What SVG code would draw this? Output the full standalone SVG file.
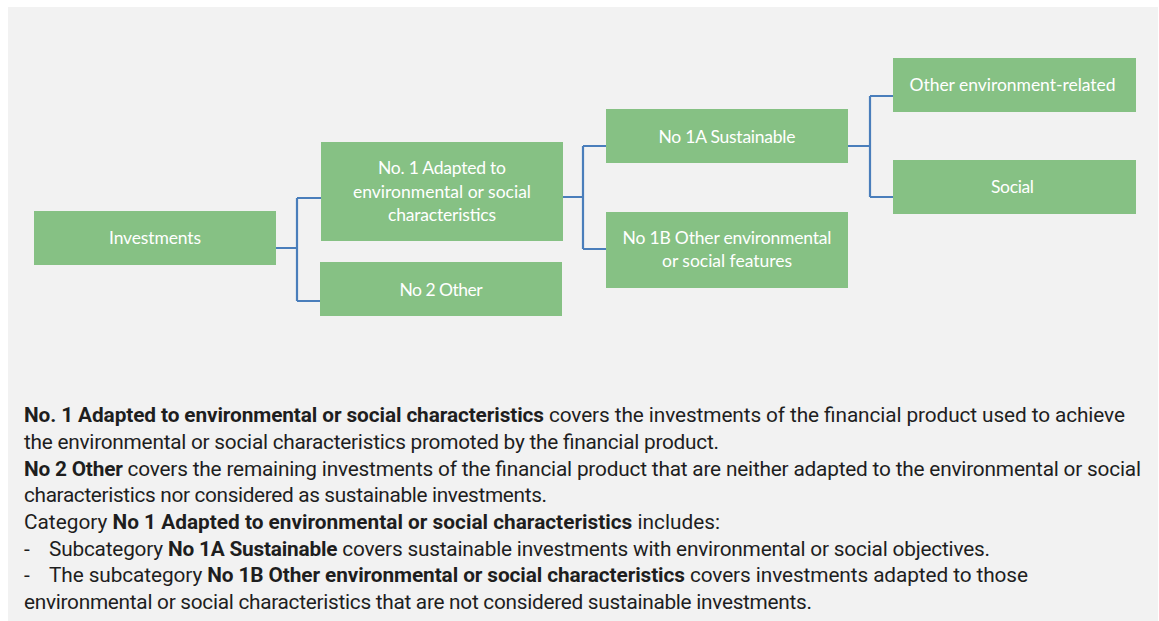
<svg xmlns="http://www.w3.org/2000/svg" width="1159" height="621" viewBox="0 0 1159 621">
<style>
.box{fill:#86c184}
.bt{font-family:Lato,"Noto Sans",sans-serif;font-size:17.5px;fill:#ffffff;text-anchor:middle}
.con{fill:none;stroke:#4a7ebb;stroke-width:2.2}
.body{font-family:Roboto,"Liberation Sans",sans-serif;font-size:20.8px;fill:#1e1e1e}
.b{font-weight:700}
</style>
<rect x="0" y="0" width="1159" height="621" fill="#ffffff"/>
<rect x="8" y="7" width="1150" height="614" fill="#f2f2f2"/>
<g id="connectors">
<path class="con" d="M276,248 H297 M297,198 V301 M297,198 H321 M297,301 H320"/>
<path class="con" d="M563,197 H583 M583,146 V249 M583,146 H606 M583,249 H606"/>
<path class="con" d="M848,146 H870 M870,96 V197 M870,96 H893 M870,197 H893"/>
</g>
<g id="investments"><rect class="box" x="34" y="211" width="242" height="54"/><text class="bt" x="155" y="244" textLength="92" lengthAdjust="spacing">Investments</text></g>
<g id="no1"><rect class="box" x="321" y="142" width="242" height="99"/>
<text class="bt" x="442" y="174" textLength="128" lengthAdjust="spacing">No. 1 Adapted to</text>
<text class="bt" x="442" y="197.5" textLength="178" lengthAdjust="spacing">environmental or social</text>
<text class="bt" x="442" y="220.5" textLength="108" lengthAdjust="spacing">characteristics</text></g>
<g id="no2"><rect class="box" x="320" y="262" width="242" height="54"/><text class="bt" x="441" y="296" textLength="83" lengthAdjust="spacing">No 2 Other</text></g>
<g id="no1a"><rect class="box" x="606" y="109" width="242" height="54"/><text class="bt" x="727" y="142.5" textLength="137" lengthAdjust="spacing">No 1A Sustainable</text></g>
<g id="no1b"><rect class="box" x="606" y="212" width="242" height="76"/>
<text class="bt" x="727" y="244" textLength="209" lengthAdjust="spacing">No 1B Other environmental</text>
<text class="bt" x="727" y="267" textLength="130" lengthAdjust="spacing">or social features</text></g>
<g id="otherenv"><rect class="box" x="893" y="58" width="243" height="54"/><text class="bt" x="1012.5" y="91" textLength="206" lengthAdjust="spacing">Other environment-related</text></g>
<g id="social"><rect class="box" x="893" y="160" width="243" height="54"/><text class="bt" x="1012.5" y="193" textLength="43" lengthAdjust="spacing">Social</text></g>
<g id="legend">
<text class="body" x="24" y="422" textLength="1101" lengthAdjust="spacing"><tspan class="b">No. 1 Adapted to environmental or social characteristics</tspan> covers the investments of the financial product used to achieve</text>
<text class="body" x="24" y="449" textLength="695" lengthAdjust="spacing">the environmental or social characteristics promoted by the financial product.</text>
<text class="body" x="24" y="475.5" textLength="1117" lengthAdjust="spacing"><tspan class="b">No 2 Other</tspan> covers the remaining investments of the financial product that are neither adapted to the environmental or social</text>
<text class="body" x="24" y="502" textLength="523" lengthAdjust="spacing">characteristics nor considered as sustainable investments.</text>
<text class="body" x="24" y="528.5" textLength="696" lengthAdjust="spacing">Category <tspan class="b">No 1 Adapted to environmental or social characteristics</tspan> includes:</text>
<text class="body" x="24" y="555.5">-</text>
<text class="body" x="49" y="555.5" textLength="941" lengthAdjust="spacing">Subcategory <tspan class="b">No 1A Sustainable</tspan> covers sustainable investments with environmental or social objectives.</text>
<text class="body" x="24" y="582">-</text>
<text class="body" x="49" y="582" textLength="979" lengthAdjust="spacing">The subcategory <tspan class="b">No 1B Other environmental or social characteristics</tspan> covers investments adapted to those</text>
<text class="body" x="24" y="609" textLength="788" lengthAdjust="spacing">environmental or social characteristics that are not considered sustainable investments.</text>
</g>
</svg>
